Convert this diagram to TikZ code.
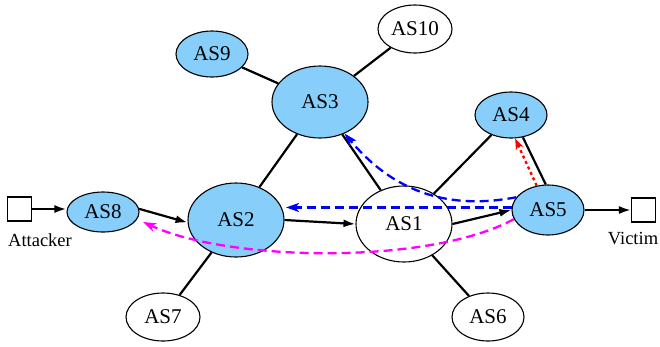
\documentclass[tikz,border=0pt]{standalone}
\usepackage{fontspec}
\setmainfont{Liberation Serif}
\usetikzlibrary{shapes.geometric,arrows.meta}
\definecolor{asblue}{RGB}{135,206,250}
\definecolor{mag}{RGB}{255,0,255}
\definecolor{bl}{RGB}{0,0,255}
\definecolor{rd}{RGB}{255,0,0}
\begin{document}
\begin{tikzpicture}[x=1pt,y=-1pt,
  as/.style={ellipse,draw=black,line width=1.1pt,inner sep=0pt,font=\fontsize{21}{25}\selectfont},
  hl/.style={as,fill=asblue},
  pl/.style={as,fill=white},
  sq/.style={draw,line width=1.1pt,minimum size=24pt,inner sep=0pt,fill=white},
  lbl/.style={font=\fontsize{18.5}{22}\selectfont,inner sep=0pt},
  edge/.style={line width=2.2pt},
  arr/.style={edge,-{Latex[length=12pt,width=8pt]}},
  dsh/.style={line width=2.3pt,dash pattern=on 9pt off 5pt,-{Stealth[length=13pt,width=9pt,inset=3.5pt]}},
]
\useasboundingbox (0,0) rectangle (660,346);
% nodes
\node[sq] (att) at (19.5,209) {};
\node[lbl] (attl) at (40,240) {Attacker};
\node[sq] (vic) at (643.5,210) {};
\node[lbl] (vicl) at (633,239) {Victim};
\node[hl,minimum width=72pt,minimum height=40pt] (AS8) at (103,212) {AS8};
\node[hl,minimum width=96pt,minimum height=74pt] (AS2) at (236,220) {AS2};
\node[hl,minimum width=96pt,minimum height=72pt] (AS3) at (320,102) {AS3};
\node[hl,minimum width=72pt,minimum height=46pt] (AS9) at (212,54) {AS9};
\node[pl,minimum width=74pt,minimum height=48pt] (AS10) at (415,29) {AS10};
\node[hl,minimum width=72pt,minimum height=46pt] (AS4) at (511,115) {AS4};
\node[hl,minimum width=72pt,minimum height=50pt] (AS5) at (548,210) {AS5};
\node[pl,minimum width=96pt,minimum height=76pt] (AS1) at (404,224) {AS1};
\node[pl,minimum width=72pt,minimum height=48pt] (AS6) at (488,317) {AS6};
\node[pl,minimum width=74pt,minimum height=48pt] (AS7) at (163,317) {AS7};
% helper coordinates
\coordinate (bt) at (286,0);
\coordinate (mt) at (143,222);
% black edges
\draw[arr] (att.east) -- (att.east -| AS8.west);
\draw[arr] (AS8.5) -- (AS2.183);
\draw[arr] (AS2.east) -- (AS1.west);
\draw[arr] (AS1.east) -- (AS5.west);
\draw[arr] (AS5.east) -- (AS5.east -| vic.west);
\draw[edge] (AS2) -- (AS3);
\draw[edge] (AS3) -- (AS9);
\draw[edge] (AS3) -- (AS10);
\draw[edge] (AS3) -- (AS1);
\draw[edge] (AS1) -- (AS4);
\draw[edge] (AS4.-62) -- (AS5.95);
\draw[edge] (AS1) -- (AS6);
\draw[edge] (AS2) -- (AS7);
% dashed paths
\draw[dsh,bl] (AS5.176) -- (AS5.176 -| bt);
\draw[dsh,bl] (AS5.158) .. controls (460,208) and (400,200) .. (AS3.-52);
\draw[dsh,mag] (AS5.195) .. controls (430,265) and (230,262) .. (mt);
\draw[line width=2.3pt,rd,dash pattern=on 3pt off 3pt,-{Stealth[length=11pt,width=8pt,inset=3pt]}] (AS5.115) -- (AS4.-80);
\end{tikzpicture}
\end{document}
